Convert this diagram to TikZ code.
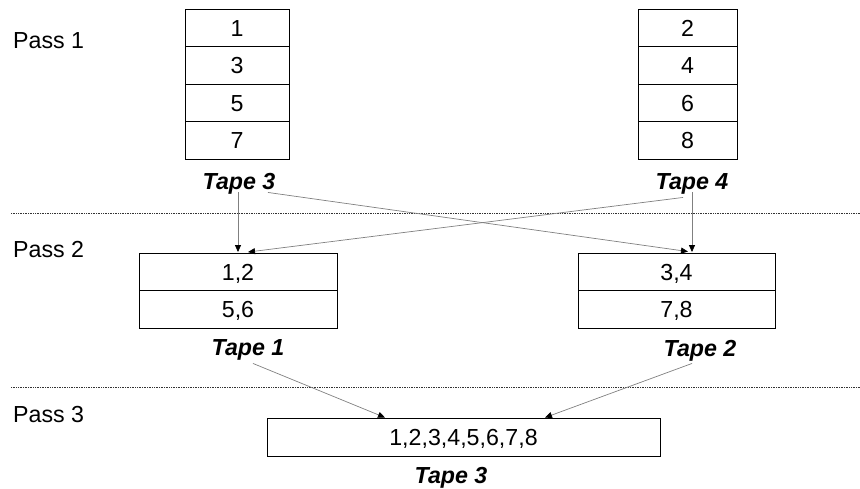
\documentclass[tikz,border=0pt]{standalone}
\usepackage{fontspec}
\setmainfont{Liberation Sans}
\usetikzlibrary{arrows.meta,calc}

\begin{document}
\begin{tikzpicture}[x=1pt,y=-1pt,
  txt/.style={font=\fontsize{23.2}{28}\selectfont, inner sep=0pt, text height=16.5pt, text depth=0pt},
  cell/.style={txt, draw=black, line width=0.9pt, minimum height=37.5pt},
  tapelabel/.style={txt, font=\fontsize{23.2}{28}\selectfont\bfseries\itshape},
  passlabel/.style={font=\fontsize{23.2}{28}\selectfont, inner sep=0pt, anchor=base west},
  sep/.style={densely dotted, line width=0.7pt, black!80},
  flow/.style={black!50, line width=0.7pt, -{Triangle[length=7pt,width=6pt,color=black]}}
]
\useasboundingbox (0,0) rectangle (860,488);

% pass labels
\node[passlabel] (pass1) at (13,48) {Pass 1};
\node[passlabel] (pass2) at (13,257) {Pass 2};
\node[passlabel] (pass3) at (13,422) {Pass 3};

% separators between passes
\draw[sep] (11,213) -- (860,213);
\draw[sep] (11,387) -- (860,387);

% pass 1: two tapes of single records
\foreach \v [count=\i] in {1,3,5,7}
  \node[cell, minimum width=104pt] (a\i) at (237,{9+37.5*(\i-0.5)}) {\v};
\foreach \v [count=\i] in {2,4,6,8}
  \node[cell, minimum width=99pt] (b\i) at (687.5,{9+37.5*(\i-0.5)}) {\v};
\node[tapelabel] (t3) at (239,181) {Tape 3};
\node[tapelabel] (t4) at (692,181) {Tape 4};

% pass 2: runs of two
\node[cell, minimum width=198pt] (c1) at (238,271.75) {1,2};
\node[cell, minimum width=198pt] (c2) at (238,309.25) {5,6};
\node[cell, minimum width=197pt] (d1) at (676.5,271.75) {3,4};
\node[cell, minimum width=197pt] (d2) at (676.5,309.25) {7,8};
\node[tapelabel] (t1) at (248,347) {Tape 1};
\node[tapelabel] (t2) at (700,348) {Tape 2};

% pass 3: single run
\node[cell, minimum width=393pt, minimum height=38pt] (e1) at (463.5,437) {1,2,3,4,5,6,7,8};
\node[tapelabel] (t3b) at (451,475) {Tape 3};

% merge flows
\draw[flow] ($(t3.south)+(-1,3)$) -- ($(c1.north)+(0,-0.5)$);
\draw[flow] ($(t3.south)+(29,3)$) -- ($(d1.north)+(11.5,-1)$);
\draw[flow] ($(t4.south)+(0,3)$) -- ($(d1.north)+(15.5,-0.5)$);
\draw[flow] ($(t4.south)+(-9,8)$) -- ($(c1.north)+(10,-0.5)$);
\draw[flow] ($(t1.south)+(5,8)$) -- ($(e1.north)+(-78.5,0)$);
\draw[flow] ($(t2.south)+(-8,7)$) -- ($(e1.north)+(81.5,0)$);
\end{tikzpicture}
\end{document}
